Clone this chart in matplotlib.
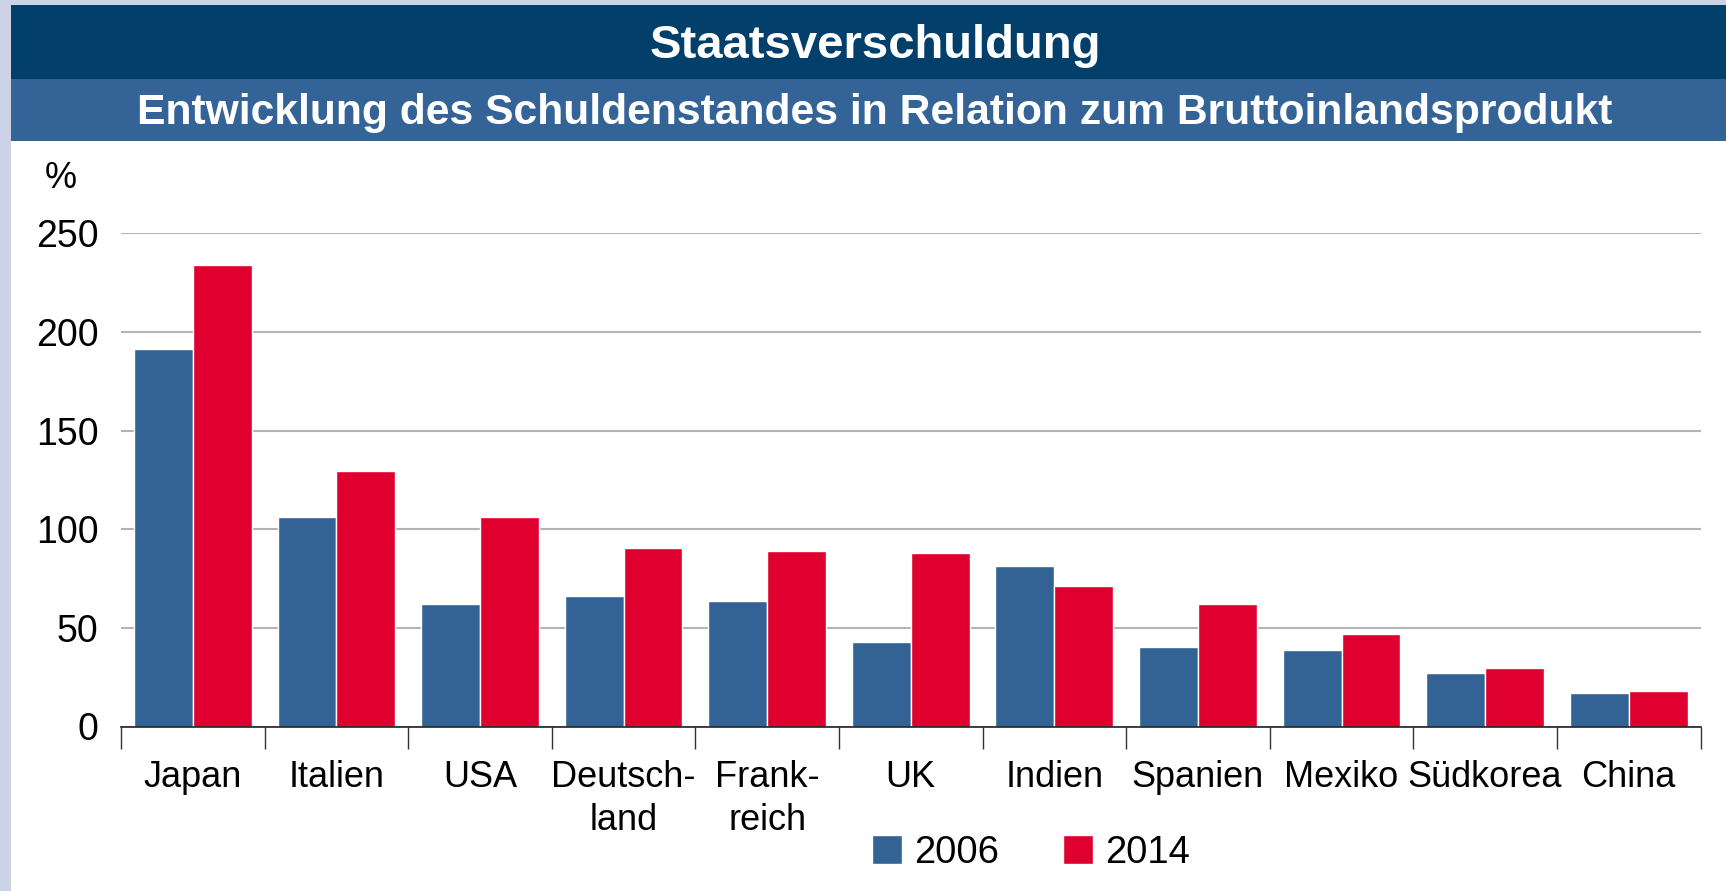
import numpy as np
import matplotlib
matplotlib.use("Agg")
import matplotlib.pyplot as plt
from matplotlib.patches import Rectangle

plt.rcParams['font.family'] = ['Liberation Sans', 'DejaVu Sans']

# data (% of GDP)
countries = ['Japan', 'Italien', 'USA', 'Deutsch-\nland', 'Frank-\nreich', 'UK',
             'Indien', 'Spanien', 'Mexiko', 'Südkorea', 'China']
debt_2006 = [191.5, 106.3, 62.2, 66.0, 63.5, 42.8, 81.6, 40.3, 38.9, 27.2, 17.1]
debt_2014 = [234.0, 129.5, 106.3, 90.6, 89.2, 88.2, 71.2, 62.3, 46.9, 29.8, 18.1]
series_labels = ['2006', '2014']
y_ticks = [0, 50, 100, 150, 200, 250]

blue = '#336394'
red = '#E0002F'
navy = '#023F6A'
mid_blue = '#346497'
lavender = '#CDD3E6'

W, H = 1726, 891
fig = plt.figure(figsize=(W / 100, H / 100), dpi=100, facecolor='white')

# header bands and frame (kept behind the axes)
def band(x0, y0, w, h, color):
    fig.patches.append(Rectangle((x0, y0), w, h, transform=fig.transFigure,
                                 facecolor=color, edgecolor='none', zorder=-10))

band(0, 0, 1, 1, lavender)
band(11 / W, 0, 1, 1 - 5 / H, 'white')
band(11 / W, 1 - 79 / H, 1, 74 / H, navy)
band(11 / W, 1 - 141 / H, 1, 62 / H, mid_blue)

fig.text(875 / W, 1 - 46 / H, 'Staatsverschuldung', color='white', fontsize=34,
         fontweight='bold', ha='center', va='center')
fig.text(875 / W, 1 - 113 / H,
         'Entwicklung des Schuldenstandes in Relation zum Bruttoinlandsprodukt',
         color='white', fontsize=30.7, fontweight='bold', ha='center', va='center')
fig.text(61 / W, 1 - 179 / H, '%', fontsize=26, ha='center', va='center')

ax = fig.add_axes([121 / W, 1 - 726.5 / H, (1700.5 - 121) / W, (726.5 - 233.4) / H])
ax.set_facecolor('none')

x = np.arange(len(countries))
w = 0.41
ax.bar(x - w / 2, debt_2006, width=w, color=blue, edgecolor='white', linewidth=1,
       label=series_labels[0], zorder=3)
ax.bar(x + w / 2, debt_2014, width=w, color=red, edgecolor='white', linewidth=1,
       label=series_labels[1], zorder=3)

ax.set_xlim(-0.5, len(countries) - 0.5)
ax.set_ylim(0, 250)
ax.set_yticks(y_ticks)
ax.tick_params(axis='y', length=0, pad=16, labelsize=27)
for lbl in ax.get_yticklabels():
    lbl.set_va('center_baseline')
ax.yaxis.grid(True, color='#B4B4B4', linewidth=1.5, zorder=0)
ax.set_axisbelow(True)

# boundary ticks as major, labels as minor at group centres
ax.set_xticks(np.arange(len(countries) + 1) - 0.5)
ax.set_xticklabels([])
ax.set_xticks(x, minor=True)
ax.set_xticklabels(countries, minor=True)
for lbl in ax.get_xticklabels(minor=True):
    lbl.set_linespacing(1.32)
ax.tick_params(axis='x', which='major', length=16, width=1, color='#333333')
ax.tick_params(axis='x', which='minor', length=0, pad=24, labelsize=26)

for s in ['top', 'right', 'left']:
    ax.spines[s].set_visible(False)
ax.spines['bottom'].set_color('#222222')
ax.spines['bottom'].set_linewidth(1.2)
ax.spines['bottom'].set_zorder(4)

fig.legend(loc='center', bbox_to_anchor=(1031 / W, 1 - 853 / H), ncol=2, frameon=False,
           fontsize=27.5, handlelength=0.78, handleheight=0.78, handletextpad=0.3,
           columnspacing=1.7, borderaxespad=0, borderpad=0)

fig.savefig('out.png', dpi=100, facecolor=fig.get_facecolor())
